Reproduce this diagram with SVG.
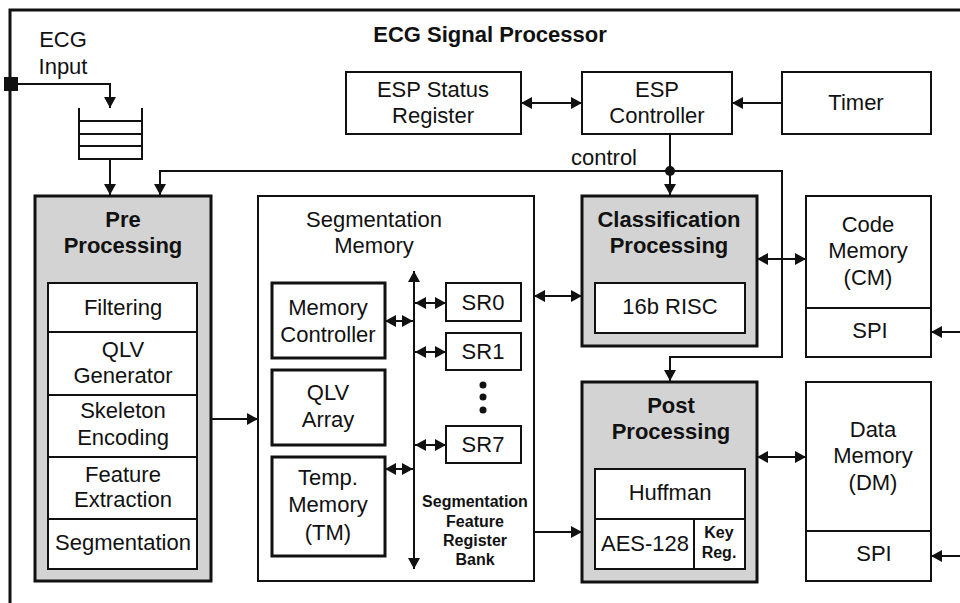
<svg xmlns="http://www.w3.org/2000/svg" width="960" height="603" viewBox="0 0 960 603">
<defs>
<style>
text{font-family:"Liberation Sans",Arial,sans-serif;fill:#111;text-anchor:middle;font-size:22px}
.b{font-weight:bold;font-size:22px}
.sb{font-weight:bold;font-size:16px}
.box{fill:#fff;stroke:#111;stroke-width:2}
.tbox{fill:#fff;stroke:#111;stroke-width:3}
.gbox{fill:#d3d3d3;stroke:#111;stroke-width:3}
.ln{fill:none;stroke:#111;stroke-width:2}
.a1{marker-end:url(#ah)}
.a2{marker-start:url(#ah);marker-end:url(#ah)}
</style>
<marker id="ah" markerUnits="userSpaceOnUse" markerWidth="13" markerHeight="13" viewBox="0 0 13 13" refX="11" refY="6.5" orient="auto-start-reverse"><path d="M0,0.5 L11,6.5 L0,12.5 Z" fill="#111"/></marker>
</defs>

<g id="frame">
<path d="M10,603 V10 H960" fill="none" stroke="#111" stroke-width="3"/>
<rect x="4" y="77" width="14" height="14" fill="#111"/>
<text class="b" x="490" y="42">ECG Signal Processor</text>
<text x="63" y="47">ECG</text>
<text x="63" y="74">Input</text>
</g>

<g id="fifo">
<path class="ln" d="M79,108 V159 H142 V108 M79,121 H142 M79,134 H142 M79,146 H142"/>
</g>

<g id="esp-status">
<rect class="box" x="346" y="72" width="175" height="62"/>
<text x="433" y="97">ESP Status</text>
<text x="433" y="123">Register</text>
</g>

<g id="esp-controller">
<rect class="box" x="582" y="72" width="150" height="62"/>
<text x="657" y="97">ESP</text>
<text x="657" y="123">Controller</text>
</g>

<g id="timer">
<rect class="box" x="782" y="72" width="149" height="62"/>
<text x="856" y="110">Timer</text>
</g>

<g id="pre-processing">
<rect class="gbox" x="35" y="196" width="176" height="385"/>
<text class="b" x="123" y="227">Pre</text>
<text class="b" x="123" y="253">Processing</text>
<rect class="box" x="48" y="283" width="149" height="286"/>
<path class="ln" d="M48,332 H197 M48,395 H197 M48,457 H197 M48,519 H197"/>
<text x="123" y="315">Filtering</text>
<text x="123" y="357">QLV</text>
<text x="123" y="383">Generator</text>
<text x="123" y="418">Skeleton</text>
<text x="123" y="445">Encoding</text>
<text x="123" y="482">Feature</text>
<text x="123" y="507">Extraction</text>
<text x="123" y="550">Segmentation</text>
</g>

<g id="segmentation-memory">
<rect class="box" x="258" y="196" width="276" height="385" stroke-width="2.5"/>
<text x="374" y="227">Segmentation</text>
<text x="374" y="253">Memory</text>
</g>

<g id="memory-controller">
<rect class="tbox" x="272" y="283" width="113" height="75"/>
<text x="328" y="315">Memory</text>
<text x="328" y="342">Controller</text>
</g>

<g id="qlv-array">
<rect class="tbox" x="272" y="370" width="113" height="75"/>
<text x="328" y="400">QLV</text>
<text x="328" y="427">Array</text>
</g>

<g id="temp-memory">
<rect class="tbox" x="272" y="457" width="113" height="99"/>
<text x="328" y="485">Temp.</text>
<text x="328" y="512">Memory</text>
<text x="328" y="540">(TM)</text>
</g>

<g id="sr0">
<rect class="box" x="446" y="283" width="75" height="38"/>
<text x="483" y="310">SR0</text>
</g>
<g id="sr1">
<rect class="box" x="446" y="333" width="75" height="37"/>
<text x="483" y="359">SR1</text>
</g>
<g id="sr-dots">
<circle cx="483" cy="385" r="3.5" fill="#111"/>
<circle cx="483" cy="397" r="3.5" fill="#111"/>
<circle cx="483" cy="410" r="3.5" fill="#111"/>
</g>
<g id="sr7">
<rect class="box" x="446" y="426" width="75" height="37"/>
<text x="483" y="452">SR7</text>
</g>

<g id="register-bank-label">
<text class="sb" x="475" y="507">Segmentation</text>
<text class="sb" x="475" y="527">Feature</text>
<text class="sb" x="475" y="546">Register</text>
<text class="sb" x="475" y="565">Bank</text>
</g>

<g id="classification-processing">
<rect class="gbox" x="582" y="196" width="175" height="150"/>
<text class="b" x="669" y="227">Classification</text>
<text class="b" x="669" y="253">Processing</text>
<rect class="box" x="595" y="283" width="150" height="50"/>
<text x="670" y="314">16b RISC</text>
</g>

<g id="post-processing">
<rect class="gbox" x="582" y="382" width="175" height="200"/>
<text class="b" x="671" y="413">Post</text>
<text class="b" x="671" y="439">Processing</text>
<rect class="box" x="595" y="469" width="150" height="100"/>
<path class="ln" d="M595,519 H745 M694,519 V569"/>
<text x="670" y="500">Huffman</text>
<text x="645" y="551">AES-128</text>
<text class="sb" x="719" y="538">Key</text>
<text class="sb" x="719" y="558">Reg.</text>
</g>

<g id="code-memory">
<rect class="box" x="806" y="196" width="125" height="161" stroke-width="2.5"/>
<path class="ln" d="M806,308 H931" stroke-width="2.5"/>
<text x="868" y="232">Code</text>
<text x="868" y="258">Memory</text>
<text x="868" y="285">(CM)</text>
<text x="870" y="338">SPI</text>
</g>

<g id="data-memory">
<rect class="box" x="806" y="382" width="125" height="199" stroke-width="2.5"/>
<path class="ln" d="M806,531 H931" stroke-width="2.5"/>
<text x="873" y="437">Data</text>
<text x="873" y="463">Memory</text>
<text x="873" y="490">(DM)</text>
<text x="874" y="561">SPI</text>
</g>

<g id="connectors">
<path class="ln a1" d="M18,84 H110 V108"/>
<path class="ln a1" d="M110,159 V195"/>
<path class="ln a1" d="M670,134 V195"/>
<path class="ln a2" d="M160,195 V171 H782 V357 H670 V381"/>
<circle cx="670" cy="171" r="5" fill="#111"/>
<text x="604" y="165">control</text>
<path class="ln a2" d="M521,103 H582"/>
<path class="ln a1" d="M782,103 H732"/>
<path class="ln a1" d="M211,419 H258"/>
<path class="ln a2" d="M534,296 H582"/>
<path class="ln a1" d="M534,532 H582"/>
<path class="ln a2" d="M757,259 H806"/>
<path class="ln a2" d="M757,457 H806"/>
<path class="ln a1" d="M960,332 H931"/>
<path class="ln a1" d="M960,556 H931"/>
<path class="ln a2" d="M414,271 V569" stroke-width="2.5"/>
<path class="ln a2" d="M385,321 H413"/>
<path class="ln a2" d="M385,469 H413"/>
<path class="ln a2" d="M415,303 H446"/>
<path class="ln a2" d="M415,352 H446"/>
<path class="ln a2" d="M415,445 H446"/>
</g>
</svg>
